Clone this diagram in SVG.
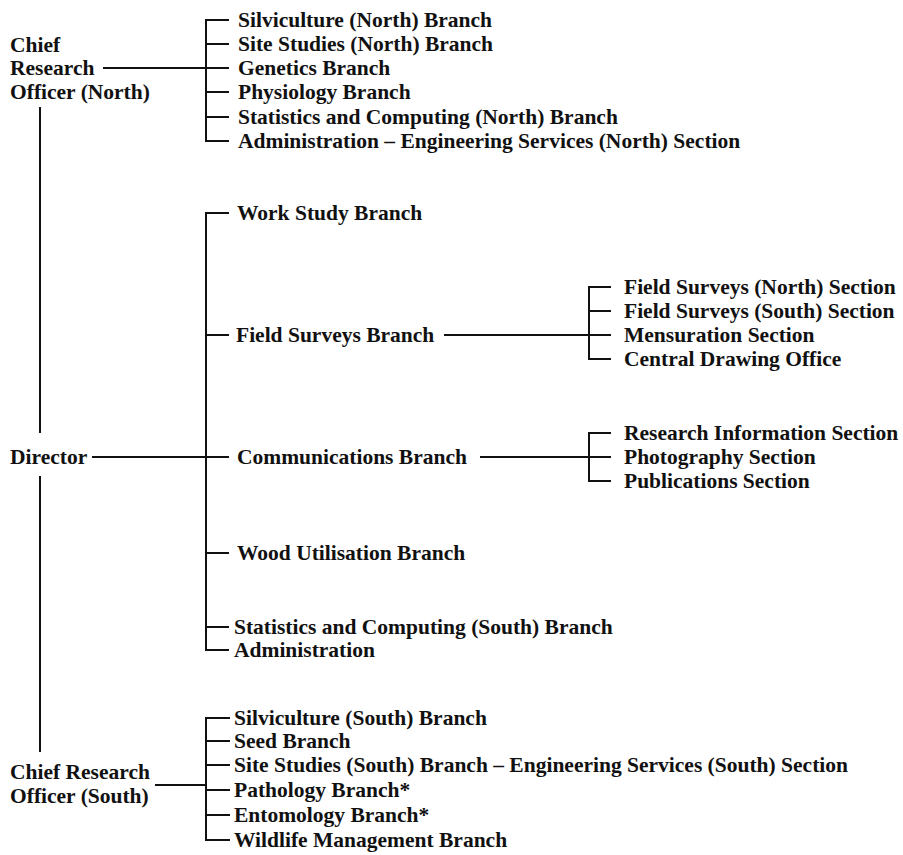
<svg xmlns="http://www.w3.org/2000/svg" width="903" height="855" viewBox="0 0 903 855">
<style>
text{font-family:"Liberation Serif","Times New Roman",serif;font-weight:bold;font-size:21.5px;fill:#111}
.c{fill:none;stroke:#111;stroke-width:2}
</style>
<rect width="903" height="855" fill="#fff"/>
<g id="connectors">
<path class="c" d="M229,20 H206 V141 H229 M206,44 H229 M206,92 H229 M206,117 H229 M103,68 H229"/>
<path class="c" d="M40,107 V433 M40,476 V752"/>
<path class="c" d="M229,213 H206 V650 H229 M206,335 H229 M206,553 H229 M206,627 H229 M92,457 H229"/>
<path class="c" d="M444,335 H611 M611,287 H589 V359 H611 M589,311 H611"/>
<path class="c" d="M480,457 H611 M611,433 H589 V481 H611"/>
<path class="c" d="M230,718 H206 V840 H230 M206,741 H230 M206,765 H230 M206,790 H230 M206,815 H230 M155,785 H206"/>
</g>
<g id="cro-north"><text x="10" y="52">Chief</text><text x="10" y="75">Research</text><text x="10" y="99">Officer (North)</text></g>
<g id="director"><text x="10" y="464">Director</text></g>
<g id="cro-south"><text x="10" y="779">Chief Research</text><text x="10" y="803">Officer (South)</text></g>
<g id="north-branches">
<text x="238" y="27">Silviculture (North) Branch</text>
<text x="238" y="51">Site Studies (North) Branch</text>
<text x="238" y="75">Genetics Branch</text>
<text x="238" y="99">Physiology Branch</text>
<text x="238" y="124">Statistics and Computing (North) Branch</text>
<text x="238" y="148">Administration – Engineering Services (North) Section</text>
</g>
<g id="work-study"><text x="237" y="220">Work Study Branch</text></g>
<g id="field-surveys"><text x="236" y="342">Field Surveys Branch</text></g>
<g id="communications"><text x="237" y="464">Communications Branch</text></g>
<g id="wood-utilisation"><text x="237" y="560">Wood Utilisation Branch</text></g>
<g id="stats-south"><text x="234" y="634">Statistics and Computing (South) Branch</text></g>
<g id="administration"><text x="234" y="657">Administration</text></g>
<g id="field-sections">
<text x="624" y="294">Field Surveys (North) Section</text>
<text x="624" y="318">Field Surveys (South) Section</text>
<text x="624" y="342">Mensuration Section</text>
<text x="624" y="366">Central Drawing Office</text>
</g>
<g id="comm-sections">
<text x="624" y="440">Research Information Section</text>
<text x="624" y="464">Photography Section</text>
<text x="624" y="488">Publications Section</text>
</g>
<g id="south-branches">
<text x="234" y="725">Silviculture (South) Branch</text>
<text x="234" y="748">Seed Branch</text>
<text x="234" y="772">Site Studies (South) Branch – Engineering Services (South) Section</text>
<text x="234" y="797">Pathology Branch*</text>
<text x="234" y="822">Entomology Branch*</text>
<text x="234" y="847">Wildlife Management Branch</text>
</g>
</svg>
